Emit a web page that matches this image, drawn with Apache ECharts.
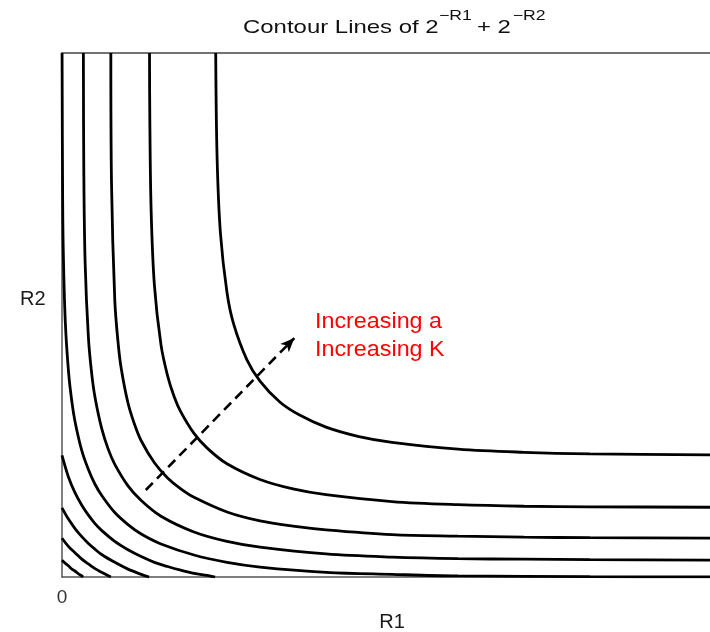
<!DOCTYPE html>
<html>
<head>
<meta charset="utf-8">
<script src="https://cdn.jsdelivr.net/npm/echarts@6/dist/echarts.min.js"></script>
<style>
  html, body { margin: 0; padding: 0; background: #fff; }
  #root { width: 710px; height: 632px; }
</style>
</head>
<body>
<div id="root"></div>
<script>
// contour levels of 2^-R1 + 2^-R2 (inner ones hit both axes, outer ones run off to the asymptotes)
const levels = ['1.8', '1.6', '1.4', '1.2', '1.0', '0.8', '0.6', '0.4', '0.2']

// points [R1, R2]
const contour18 = [[0, 0.32], [0.05, 0.26], [0.1, 0.21], [0.15, 0.15], [0.2, 0.11], [0.25, 0.06], [0.3, 0.02], [0.32, 0]]
const contour16 = [[0, 0.74], [0.1, 0.58], [0.2, 0.46], [0.3, 0.34], [0.4, 0.25], [0.5, 0.16], [0.6, 0.09], [0.74, 0]]
const contour14 = [[0, 1.32], [0.1, 1.1], [0.2, 0.92], [0.3, 0.77], [0.4, 0.64], [0.5, 0.53], [0.6, 0.43],
  [0.8, 0.28], [1.0, 0.15], [1.2, 0.05], [1.32, 0]]
const contour12 = [[0, 2.32], [0.1, 1.9], [0.2, 1.6], [0.3, 1.37], [0.4, 1.18], [0.5, 1.02], [0.6, 0.89],
  [0.8, 0.68], [1.0, 0.52], [1.2, 0.39], [1.4, 0.28], [1.6, 0.2], [1.8, 0.13], [2.0, 0.07], [2.2, 0.03], [2.32, 0]]
const contour10 = [[0.001, 10], [0.01, 7.18], [0.02, 6.18], [0.05, 4.87], [0.1, 3.9], [0.15, 3.34], [0.2, 2.95],
  [0.3, 2.41], [0.4, 2.05], [0.5, 1.77], [0.6, 1.56], [0.8, 1.23], [1.0, 1.0], [1.2, 0.82], [1.5, 0.63],
  [2.0, 0.42], [2.5, 0.28], [3.0, 0.19], [4.0, 0.09], [5.0, 0.05], [6.0, 0.02], [8.0, 0.006], [10, 0.001]]
const contour08 = [[0.324, 10], [0.33, 7.83], [0.35, 6.02], [0.4, 4.57], [0.45, 3.88], [0.5, 3.43], [0.6, 2.84],
  [0.7, 2.44], [0.8, 2.15], [1.0, 1.74], [1.2, 1.46], [1.5, 1.16], [2.0, 0.86], [2.5, 0.68], [3.0, 0.57],
  [4.0, 0.44], [5.0, 0.38], [6.0, 0.35], [7.0, 0.34], [8.0, 0.33], [10, 0.32]]
const contour06 = [[0.74, 10], [0.75, 7.53], [0.8, 5.28], [0.85, 4.47], [0.9, 3.96], [1.0, 3.32], [1.1, 2.91],
  [1.2, 2.6], [1.4, 2.18], [1.6, 1.89], [1.8, 1.68], [2.0, 1.52], [2.5, 1.24], [3.0, 1.07], [3.5, 0.97],
  [4.0, 0.9], [5.0, 0.81], [6.0, 0.78], [7.0, 0.76], [8.0, 0.75], [10, 0.74]]
const contour04 = [[1.326, 10], [1.33, 8.83], [1.35, 7.02], [1.4, 5.57], [1.5, 4.43], [1.6, 3.84], [1.7, 3.44],
  [1.8, 3.15], [2.0, 2.74], [2.2, 2.46], [2.5, 2.16], [3.0, 1.86], [3.5, 1.68], [4.0, 1.57], [5.0, 1.44],
  [6.0, 1.38], [7.0, 1.35], [8.0, 1.34], [10, 1.33]]
const contour02 = [[2.329, 10], [2.35, 8.0], [2.4, 6.57], [2.5, 5.43], [2.6, 4.83], [2.8, 4.15], [3.0, 3.74],
  [3.3, 3.34], [3.6, 3.09], [4.0, 2.86], [4.5, 2.68], [5.0, 2.57], [6.0, 2.44], [7.0, 2.38], [8.0, 2.35], [10, 2.33]]

const contours = [contour18, contour16, contour14, contour12, contour10, contour08, contour06, contour04, contour02]

// tick label on the R1 axis and the dashed "increasing" arrow
const xLabelValues = [0]
const arrowFrom = [1.27, 1.66]
const arrowTo = [3.52, 4.56]
const noteLines = ['Increasing a', 'Increasing K']

const FONT = '"Liberation Sans", Arial, Helvetica, sans-serif'

const chart = echarts.init(document.getElementById('root'), null, { renderer: 'canvas' })

const series = contours.map((pts, i) => {
  const s = {
    name: 'c = ' + levels[i],
    type: 'line',
    data: pts,
    showSymbol: false,
    smooth: 0.35,
    clip: true,
    silent: true,
    lineStyle: { color: '#000', width: 2.8 }
  }
  if (i === contours.length - 1) {
    s.markLine = {
      silent: true,
      animation: false,
      symbol: ['none', 'arrow'],
      symbolSize: [9, 14],
      label: { show: false },
      lineStyle: { color: '#000', width: 2.6, type: [10, 6] },
      data: [[{ coord: arrowFrom }, { coord: arrowTo }]]
    }
  }
  return s
})

const option = {
  animation: false,
  backgroundColor: '#fff',
  // plot box runs a little past the right edge of the picture, so no right border shows
  grid: { left: 62, top: 53, width: 660, height: 524, outerBoundsMode: 'none', containLabel: false },
  xAxis: [
    {
      type: 'value',
      min: 0,
      max: 10,
      position: 'bottom',
      name: 'R1',
      nameLocation: 'middle',
      nameGap: 45,
      nameTextStyle: { fontFamily: FONT, fontSize: 20, color: '#1a1a1a', align: 'center', verticalAlign: 'middle' },
      axisLine: { show: true, onZero: false, lineStyle: { color: '#555', width: 1.5 } },
      axisTick: { show: false },
      splitLine: { show: false },
      axisLabel: {
        customValues: xLabelValues,
        margin: 11,
        fontFamily: FONT,
        fontSize: 19,
        color: '#333'
      }
    },
    {
      type: 'value',
      min: 0,
      max: 10,
      position: 'top',
      axisLine: { show: true, onZero: false, lineStyle: { color: '#444', width: 1.5 } },
      axisTick: { show: false },
      axisLabel: { show: false },
      splitLine: { show: false }
    }
  ],
  yAxis: {
    type: 'value',
    min: 0,
    max: 10,
    axisLine: { show: true, onZero: false, lineStyle: { color: '#555', width: 1.5 } },
    axisTick: { show: false },
    axisLabel: { show: false },
    splitLine: { show: false }
  },
  graphic: [
    {
      type: 'group',
      x: 243,
      y: 0,
      scaleX: 1.26,
      silent: true,
      children: [
        { type: 'text', x: 0, y: 27.7, style: { text: 'Contour Lines of 2', font: '19px ' + FONT, fill: '#111', verticalAlign: 'middle' } },
        { type: 'text', x: 155.5, y: 15.7, style: { text: '\u2212R1', font: '14px ' + FONT, fill: '#111', verticalAlign: 'middle' } },
        { type: 'text', x: 185.7, y: 27.7, style: { text: '+ 2', font: '19px ' + FONT, fill: '#111', verticalAlign: 'middle' } },
        { type: 'text', x: 214, y: 15.7, style: { text: '\u2212R2', font: '14px ' + FONT, fill: '#111', verticalAlign: 'middle' } }
      ]
    },
    {
      // R2 axis name, sits a bit above the middle of the axis in the reference
      type: 'text',
      x: 20,
      y: 299.8,
      silent: true,
      style: { text: 'R2', font: '20px ' + FONT, fill: '#1a1a1a', verticalAlign: 'middle' }
    },
    {
      type: 'text',
      x: 315,
      y: 307.5,
      scaleX: 1.06,
      silent: true,
      style: {
        text: noteLines.join('\n'),
        font: '22px ' + FONT,
        lineHeight: 28,
        fill: '#ff0000',
        verticalAlign: 'top'
      }
    }
  ],
  series: series
}

chart.setOption(option)
</script>
</body>
</html>
